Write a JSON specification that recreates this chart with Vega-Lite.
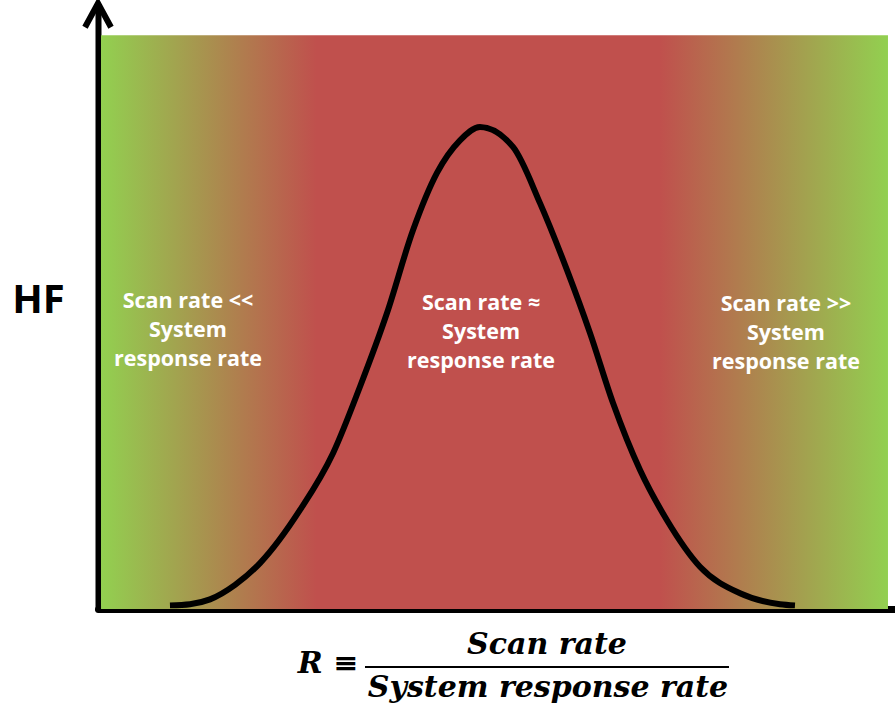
{
  "$schema": "https://vega.github.io/schema/vega-lite/v6.json",
  "autosize": {"type": "none"},
  "width": 797,
  "height": 604,
  "padding": {"left": 98, "top": 5, "right": 0, "bottom": 97},
  "background": "white",
  "config": {"view": {"stroke": null}},
  "datasets": {
    "band": [{"x": 0.038, "x2": 9.912, "y": 0, "y2": 0.95}],
    "curve": [
      {"R": 0.903, "HF": 0.006},
      {"R": 1.154, "HF": 0.008},
      {"R": 1.405, "HF": 0.016},
      {"R": 1.72, "HF": 0.04},
      {"R": 2.033, "HF": 0.076},
      {"R": 2.535, "HF": 0.164},
      {"R": 2.949, "HF": 0.258},
      {"R": 3.287, "HF": 0.368},
      {"R": 3.626, "HF": 0.49},
      {"R": 3.952, "HF": 0.627},
      {"R": 4.253, "HF": 0.722},
      {"R": 4.542, "HF": 0.776},
      {"R": 4.793, "HF": 0.798},
      {"R": 5.207, "HF": 0.765},
      {"R": 5.546, "HF": 0.672},
      {"R": 5.885, "HF": 0.561},
      {"R": 6.173, "HF": 0.457},
      {"R": 6.462, "HF": 0.341},
      {"R": 6.801, "HF": 0.23},
      {"R": 7.139, "HF": 0.147},
      {"R": 7.553, "HF": 0.07},
      {"R": 8.055, "HF": 0.026},
      {"R": 8.557, "HF": 0.008},
      {"R": 8.745, "HF": 0.006}
    ],
    "labels": [
      {"R": 1.129, "HF": 0.508, "label": "Scan rate <<\nSystem\nresponse rate"},
      {"R": 4.806, "HF": 0.505, "label": "Scan rate ≈\nSystem\nresponse rate"},
      {"R": 8.632, "HF": 0.503, "label": "Scan rate >>\nSystem\nresponse rate"}
    ],
    "formula": [
      {"R": 2.886, "HF": -0.091, "label": "R ≡"},
      {"R": 5.634, "HF": -0.06, "label": "Scan rate"},
      {"R": 5.646, "HF": -0.131, "label": "System response rate"}
    ],
    "bar": [{"x": 3.35, "x2": 7.917, "y": -0.096}],
    "arrow": [{"R": 0, "HF": 0.983}]
  },
  "layer": [
    {
      "data": {"name": "band"},
      "mark": {
        "type": "rect",
        "color": {
          "gradient": "linear",
          "x1": 0, "y1": 0, "x2": 1, "y2": 0,
          "stops": [
            {"offset": 0, "color": "#92D050"},
            {"offset": 0.274, "color": "#C0504D"},
            {"offset": 0.71, "color": "#C0504D"},
            {"offset": 1, "color": "#92D050"}
          ]
        }
      },
      "encoding": {
        "x": {"field": "x", "type": "quantitative", "scale": {"domain": [0, 10], "nice": false, "zero": false},
          "axis": {"ticks": false, "labels": false, "grid": false, "title": null, "domainColor": "black", "domainWidth": 7, "domainCap": "round"}},
        "x2": {"field": "x2"},
        "y": {"field": "y", "type": "quantitative", "scale": {"domain": [0, 1], "nice": false, "zero": false},
          "axis": {"ticks": false, "labels": false, "grid": false, "domainColor": "black", "domainWidth": 6, "domainCap": "round",
            "title": "HF", "titleAngle": 0, "titleX": -60, "titleY": 295, "titleAlign": "center", "titleBaseline": "middle",
            "titleFont": "Open Sans", "titleFontSize": 40, "titleFontWeight": "bold", "titleColor": "black"}},
        "y2": {"field": "y2"}
      }
    },
    {
      "data": {"name": "curve"},
      "mark": {"type": "line", "color": "black", "strokeWidth": 6, "interpolate": "monotone"},
      "encoding": {
        "x": {"field": "R", "type": "quantitative"},
        "y": {"field": "HF", "type": "quantitative"}
      }
    },
    {
      "data": {"name": "labels"},
      "mark": {"type": "text", "color": "white", "font": "Open Sans", "fontSize": 21.5, "fontWeight": "bold", "lineBreak": "\n", "lineHeight": 29, "align": "center", "baseline": "middle"},
      "encoding": {
        "x": {"field": "R", "type": "quantitative"},
        "y": {"field": "HF", "type": "quantitative"},
        "text": {"field": "label"}
      }
    },
    {
      "data": {"name": "formula"},
      "mark": {"type": "text", "color": "black", "font": "DejaVu Serif", "fontSize": 30, "fontWeight": "bold", "fontStyle": "italic", "align": "center", "baseline": "middle"},
      "encoding": {
        "x": {"field": "R", "type": "quantitative"},
        "y": {"field": "HF", "type": "quantitative"},
        "text": {"field": "label"}
      }
    },
    {
      "data": {"name": "bar"},
      "mark": {"type": "rule", "color": "black", "strokeWidth": 2},
      "encoding": {
        "x": {"field": "x", "type": "quantitative"},
        "x2": {"field": "x2"},
        "y": {"field": "y", "type": "quantitative"}
      }
    },
    {
      "data": {"name": "arrow"},
      "mark": {"type": "point", "shape": "M-1,0.923L0,-0.923L1,0.923", "filled": false, "stroke": "black", "strokeWidth": 6, "size": 676, "opacity": 1},
      "encoding": {
        "x": {"field": "R", "type": "quantitative"},
        "y": {"field": "HF", "type": "quantitative"}
      }
    }
  ]
}
